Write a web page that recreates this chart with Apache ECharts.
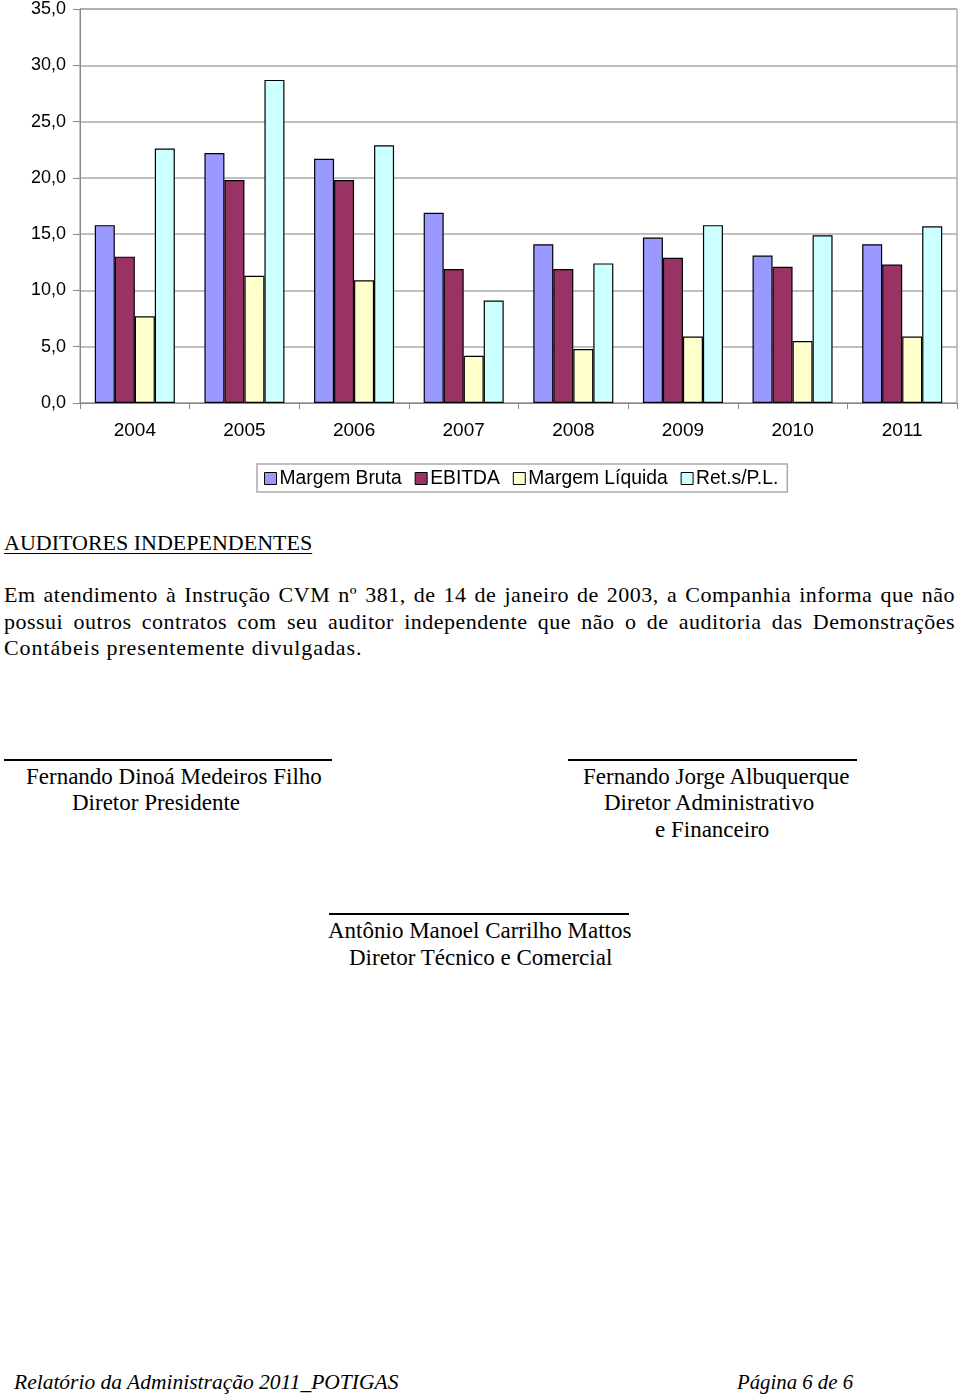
<!DOCTYPE html>
<html>
<head>
<meta charset="utf-8">
<script src="https://cdn.jsdelivr.net/npm/echarts@6/dist/echarts.min.js"></script>
<style>
  html, body { margin:0; padding:0; background:#fff; }
  body { width:960px; height:1396px; position:relative; overflow:hidden; }
  #chart { position:absolute; left:0; top:0; width:960px; height:505px; }
  .t { position:absolute; white-space:nowrap; color:#000; }
  .pal { font-family:"Liberation Serif","DejaVu Serif",serif; }
  .tim { font-family:"Liberation Serif",serif; }
  .line { position:absolute; background:#000; }
  .jl { display:block; text-align:justify; text-align-last:justify; white-space:nowrap; }
</style>
</head>
<body>
<div id="chart"></div>

<div class="t pal" style="left:4px; top:530px; font-size:22px; text-decoration:underline; text-underline-offset:3px; text-decoration-thickness:1px;">AUDITORES INDEPENDENTES</div>

<div class="pal" style="position:absolute; left:4px; top:582px; width:951px; font-size:22px; line-height:26.5px; letter-spacing:0.5px;">
  <span class="jl">Em atendimento à Instrução CVM nº 381, de 14 de janeiro de 2003, a Companhia informa que não</span>
  <span class="jl">possui outros contratos com seu auditor independente que não o de auditoria das Demonstrações</span>
  <span style="display:block; white-space:nowrap; letter-spacing:0.9px;">Contábeis presentemente divulgadas.</span>
</div>

<div class="line" style="left:4px; top:759px; width:328px; height:2px;"></div>
<div class="t tim" style="left:26px; top:764px; font-size:23px;">Fernando Dinoá Medeiros Filho</div>
<div class="t tim" style="left:72px; top:790px; font-size:23px;">Diretor Presidente</div>

<div class="line" style="left:568px; top:759px; width:289px; height:2px;"></div>
<div class="t tim" style="left:583px; top:764px; font-size:23px;">Fernando Jorge Albuquerque</div>
<div class="t tim" style="left:604px; top:790px; font-size:23px;">Diretor Administrativo</div>
<div class="t tim" style="left:655px; top:817px; font-size:23px;">e Financeiro</div>

<div class="line" style="left:329px; top:913px; width:300px; height:2px;"></div>
<div class="t tim" style="left:328px; top:918px; font-size:23px;">Antônio Manoel Carrilho Mattos</div>
<div class="t tim" style="left:349px; top:945px; font-size:23px;">Diretor Técnico e Comercial</div>

<div class="t pal" style="left:14px; top:1370px; font-size:21.5px; font-style:italic;">Relatório da Administração 2011_POTIGAS</div>
<div class="t pal" style="left:737px; top:1370px; font-size:20.8px; font-style:italic;">Página 6 de 6</div>

<script>
const categories = ['2004','2005','2006','2007','2008','2009','2010','2011'];
const seriesNames = ['Margem Bruta','EBITDA','Margem Líquida','Ret.s/P.L.'];
const margemBruta   = [15.8, 22.2, 21.7, 16.9, 14.1, 14.7, 13.1, 14.1];
const ebitda        = [13.0, 19.8, 19.8, 11.9, 11.9, 12.9, 12.1, 12.3];
const margemLiquida = [7.7, 11.3, 10.9, 4.2, 4.8, 5.9, 5.5, 5.9];
const retPL         = [22.6, 28.7, 22.9, 9.1, 12.4, 15.8, 14.9, 15.7];
const colors = ['#9999FF','#993366','#FFFFCC','#CCFFFF'];

const dataSets = [margemBruta, ebitda, margemLiquida, retPL];
const chart = echarts.init(document.getElementById('chart'));
const font = '"Liberation Sans", Arial, sans-serif';
chart.setOption({
  animation:false,
  color: colors,
  grid: { left:80, top:9, width:877, height:394, show:true, borderColor:'#888', borderWidth:1, backgroundColor:'transparent' },
  legend: {
    left:257, top:464, padding:[5,9,4,7], itemGap:13,
    borderColor:'#aaa', borderWidth:1.5, borderRadius:0,
    icon:'rect', itemWidth:12, itemHeight:12,
    itemStyle:{ borderColor:'#000', borderWidth:1 },
    textStyle:{ fontFamily:font, fontSize:19.3, color:'#000', padding:[0,0,0,-2] },
    data: seriesNames
  },
  xAxis: {
    type:'category', data:categories,
    axisLine:{ lineStyle:{ color:'#888', width:1 } },
    axisTick:{ show:true, length:6, alignWithLabel:false, lineStyle:{ color:'#888' } },
    axisLabel:{ fontFamily:font, fontSize:19, color:'#000', margin:18 },
    splitLine:{ show:false }
  },
  yAxis: {
    type:'value', min:0, max:35, interval:5,
    axisLine:{ show:true, lineStyle:{ color:'#888', width:1 } },
    axisTick:{ show:true, length:7, inside:false, lineStyle:{ color:'#888' } },
    axisLabel:{ fontFamily:font, fontSize:18, color:'#000', margin:14, formatter: v => v.toFixed(1).replace('.', ',') },
    splitLine:{ show:true, lineStyle:{ color:'#aaa', width:1.5 } }
  },
  series: seriesNames.map((n,i) => ({
    name:n, type:'bar', data:dataSets[i],
    barGap:'0%', barCategoryGap:'27%',
    itemStyle:{ color:colors[i], borderColor:'#000', borderWidth:1.2 }
  }))
});
</script>
</body>
</html>
